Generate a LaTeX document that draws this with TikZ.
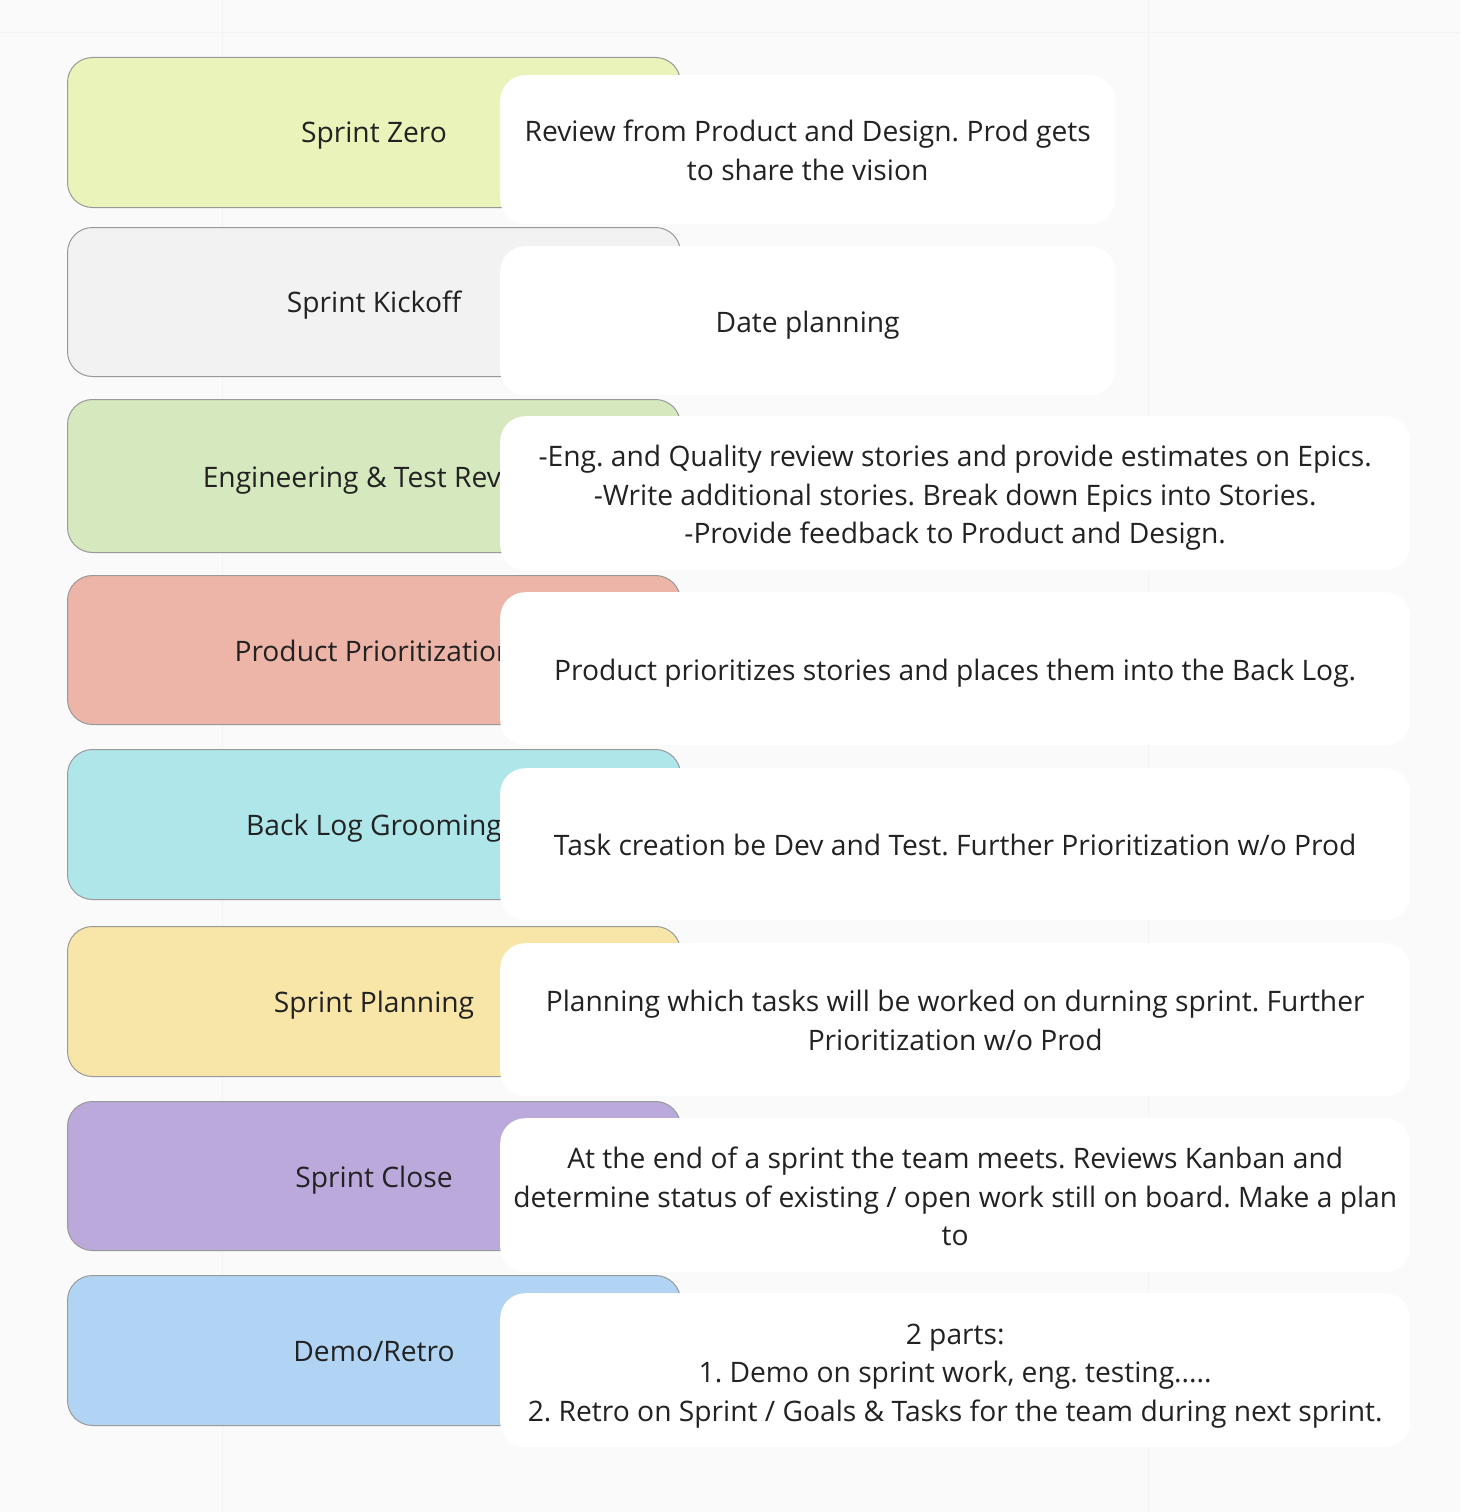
\documentclass[tikz,border=0pt]{standalone}
\usepackage{fontspec}
\setmainfont{Open Sans}
\frenchspacing
\definecolor{bg}{HTML}{FAFAFA}
\definecolor{gridc}{HTML}{F3F3F3}
\definecolor{txt}{HTML}{222222}
\definecolor{edge}{HTML}{999999}
\definecolor{cA}{HTML}{EAF3B9}
\definecolor{cB}{HTML}{F2F2F2}
\definecolor{cC}{HTML}{D6E8BE}
\definecolor{cD}{HTML}{ECB5A8}
\definecolor{cE}{HTML}{AEE6EA}
\definecolor{cF}{HTML}{F8E6A8}
\definecolor{cG}{HTML}{BBA9DC}
\definecolor{cH}{HTML}{B2D4F4}
\tikzset{
  phase/.style={draw=edge, line width=1pt, rounded corners=25pt, minimum width=613pt,
    minimum height=150pt, anchor=north west, inner sep=0pt},
  note/.style={fill=white, draw=none, rounded corners=25pt, anchor=north west,
    minimum height=152pt, inner sep=0pt},
  narrow/.style={minimum width=615pt},
  wide/.style={minimum width=910pt},
  label/.style={inner sep=0pt, align=center, text=txt,
    font=\fontsize{28.2}{38.5}\selectfont},
}
\begin{document}
\begin{tikzpicture}[x=1pt,y=-1pt]
\fill[bg] (0,0) rectangle (1460,1512);
\useasboundingbox (0,0) rectangle (1460,1512);
\draw[gridc, line width=1pt] (0,33) -- (1460,33);
\draw[gridc, line width=1pt] (222,0) -- (222,1512);
\draw[gridc, line width=1pt] (1148,0) -- (1148,1512);

\node[phase, fill=cA] (p1) at (67,57) {};
\node[label] (q1) at ([yshift=-3.5pt]p1.center) {Sprint Zero};
\node[note, narrow, minimum height=149pt] (n1) at (500,75) {};
\node[label] (t1) at ([yshift=-0.5pt]n1.center) {Review from Product and Design. Prod gets\\to share the vision};

\node[phase, fill=cB, minimum height=149pt] (p2) at (67,227) {};
\node[label] (q2) at ([yshift=-3.5pt]p2.center) {Sprint Kickoff};
\node[note, narrow, minimum height=149pt] (n2) at (500,246) {};
\node[label] (t2) at ([yshift=-4.5pt]n2.center) {Date planning};

\node[phase, fill=cC, minimum height=153pt] (p3) at (67,399) {};
\node[label] (q3) at ([yshift=-4.5pt]p3.center) {Engineering \& Test Review};
\node[note, wide, minimum height=154pt] (n3) at (500,416) {};
\node[label] (t3) at ([yshift=-4.5pt]n3.center) {-Eng. and Quality review stories and provide estimates on Epics.\\-Write additional stories. Break down Epics into Stories.\\-Provide feedback to Product and Design.};

\node[phase, fill=cD, minimum height=149pt] (p4) at (67,575) {};
\node[label] (q4) at ([yshift=-0.5pt]p4.center) {Product Prioritization};
\node[note, wide, minimum height=153pt] (n4) at (500,592) {};
\node[label] (t4) at ([yshift=-4.5pt]n4.center) {Product prioritizes stories and places them into the Back Log.};

\node[phase, fill=cE] (p5) at (67,749) {};
\node[label] (q5) at ([yshift=-3.5pt]p5.center) {Back Log Grooming};
\node[note, wide] (n5) at (500,768) {};
\node[label] (t5) at ([yshift=-0.5pt]n5.center) {Task creation be Dev and Test. Further Prioritization w/o Prod};

\node[phase, fill=cF] (p6) at (67,926) {};
\node[label] (q6) at ([yshift=-3.5pt]p6.center) {Sprint Planning};
\node[note, wide, minimum height=153pt] (n6) at (500,943) {};
\node[label] (t6) at ([yshift=-0.5pt]n6.center) {Planning which tasks will be worked on durning sprint. Further\\Prioritization w/o Prod};

\node[phase, fill=cG, minimum height=149pt] (p7) at (67,1101) {};
\node[label] (q7) at ([yshift=-4.5pt]p7.center) {Sprint Close};
\node[note, wide, minimum height=154pt] (n7) at (500,1118) {};
\node[label] (t7) at ([yshift=-1.5pt]n7.center) {At the end of a sprint the team meets. Reviews Kanban and\\determine status of existing / open work still on board. Make a plan\\to};

\node[phase, fill=cH] (p8) at (67,1275) {};
\node[label] (q8) at ([yshift=-1.5pt]p8.center) {Demo/Retro};
\node[note, wide, minimum height=154pt] (n8) at (500,1293) {};
\node[label] (t8) at ([yshift=-5.5pt]n8.center) {2 parts:\\1. Demo on sprint work, eng. testing.....\\2. Retro on Sprint / Goals \& Tasks for the team during next sprint.};
\end{tikzpicture}
\end{document}
